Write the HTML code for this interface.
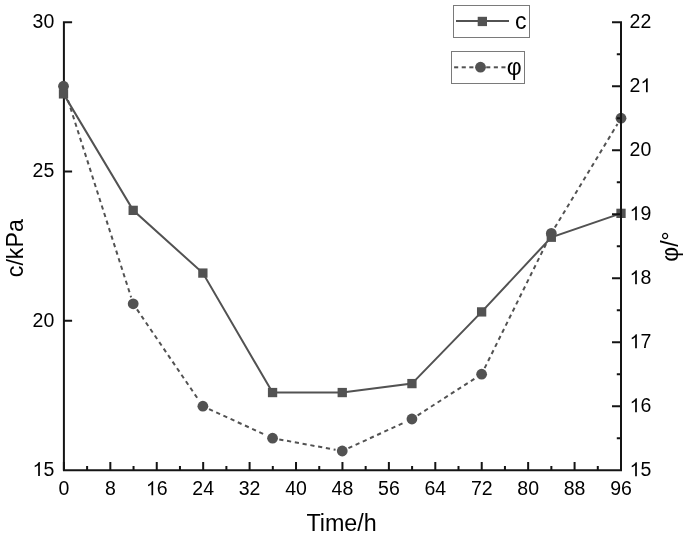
<!DOCTYPE html><html><head><meta charset="utf-8"><style>html,body{margin:0;padding:0;background:#fff;}svg{display:block;will-change:transform;font-family:"Liberation Sans",sans-serif;}</style></head><body>
<svg width="685" height="536" viewBox="0 0 685 536">
<path d="M63.9,22.2 V470.2 M62.9,22.20 H72.1 M62.9,171.53 H72.1 M62.9,320.87 H72.1" fill="none" stroke="#141414" stroke-width="2" stroke-linecap="butt"/>
<line x1="65.57" y1="92.68" x2="131.11" y2="297.32" stroke="#525252" stroke-width="2" stroke-dasharray="4.2,3.7"/>
<line x1="137.01" y1="309.42" x2="199.05" y2="400.58" stroke="#525252" stroke-width="2" stroke-dasharray="4.2,3.7"/>
<line x1="209.05" y1="409.04" x2="266.38" y2="435.36" stroke="#525252" stroke-width="2" stroke-dasharray="4.2,3.7"/>
<line x1="279.25" y1="439.43" x2="335.56" y2="449.77" stroke="#525252" stroke-width="2" stroke-dasharray="4.2,3.7"/>
<line x1="348.43" y1="448.16" x2="405.76" y2="421.84" stroke="#525252" stroke-width="2" stroke-dasharray="4.2,3.7"/>
<line x1="417.66" y1="415.32" x2="475.91" y2="377.88" stroke="#525252" stroke-width="2" stroke-dasharray="4.2,3.7"/>
<line x1="484.64" y1="368.11" x2="548.30" y2="239.49" stroke="#525252" stroke-width="2" stroke-dasharray="4.2,3.7"/>
<line x1="554.83" y1="227.58" x2="617.48" y2="124.02" stroke="#525252" stroke-width="2" stroke-dasharray="4.2,3.7"/>
<polyline points="63.50,93.88 133.19,210.36 202.88,273.08 272.56,392.55 342.25,392.55 411.94,383.59 481.62,311.91 551.31,237.24 621.00,213.35" fill="none" stroke="#525252" stroke-width="2" stroke-linejoin="miter"/>
<circle cx="63.50" cy="86.20" r="5.4" fill="#525252"/>
<circle cx="133.19" cy="303.80" r="5.4" fill="#525252"/>
<circle cx="202.88" cy="406.20" r="5.4" fill="#525252"/>
<circle cx="272.56" cy="438.20" r="5.4" fill="#525252"/>
<circle cx="342.25" cy="451.00" r="5.4" fill="#525252"/>
<circle cx="411.94" cy="419.00" r="5.4" fill="#525252"/>
<circle cx="481.62" cy="374.20" r="5.4" fill="#525252"/>
<circle cx="551.31" cy="233.40" r="5.4" fill="#525252"/>
<circle cx="621.00" cy="118.20" r="5.4" fill="#525252"/>
<rect x="58.85" y="89.23" width="9.3" height="9.3" fill="#525252"/>
<rect x="128.54" y="205.71" width="9.3" height="9.3" fill="#525252"/>
<rect x="198.22" y="268.43" width="9.3" height="9.3" fill="#525252"/>
<rect x="267.91" y="387.90" width="9.3" height="9.3" fill="#525252"/>
<rect x="337.60" y="387.90" width="9.3" height="9.3" fill="#525252"/>
<rect x="407.29" y="378.94" width="9.3" height="9.3" fill="#525252"/>
<rect x="476.98" y="307.26" width="9.3" height="9.3" fill="#525252"/>
<rect x="546.66" y="232.59" width="9.3" height="9.3" fill="#525252"/>
<rect x="616.35" y="208.70" width="9.3" height="9.3" fill="#525252"/>
<path d="M62.9,470.2 H622.0 M621.0,470.2 V22.2 M622.0,470.20 H612.0 M622.0,438.20 H616.8 M622.0,406.20 H612.0 M622.0,374.20 H616.8 M622.0,342.20 H612.0 M622.0,310.20 H616.8 M622.0,278.20 H612.0 M622.0,246.20 H616.8 M622.0,214.20 H612.0 M622.0,182.20 H616.8 M622.0,150.20 H612.0 M622.0,118.20 H616.8 M622.0,86.20 H612.0 M622.0,54.20 H616.8 M622.0,22.20 H612.0 M63.90,470.2 V462.0 M87.11,470.2 V466.0 M110.33,470.2 V462.0 M133.54,470.2 V466.0 M156.75,470.2 V462.0 M179.96,470.2 V466.0 M203.18,470.2 V462.0 M226.39,470.2 V466.0 M249.60,470.2 V462.0 M272.81,470.2 V466.0 M296.02,470.2 V462.0 M319.24,470.2 V466.0 M342.45,470.2 V462.0 M365.66,470.2 V466.0 M388.88,470.2 V462.0 M412.09,470.2 V466.0 M435.30,470.2 V462.0 M458.51,470.2 V466.0 M481.73,470.2 V462.0 M504.94,470.2 V466.0 M528.15,470.2 V462.0 M551.36,470.2 V466.0 M574.58,470.2 V462.0 M597.79,470.2 V466.0 M621.00,470.2 V462.0" fill="none" stroke="#141414" stroke-width="2" stroke-linecap="butt"/>
<text x="32.61" y="28.10" font-size="19.5px">3</text><text x="43.46" y="28.10" font-size="19.5px">0</text>
<text x="32.61" y="177.43" font-size="19.5px">2</text><text x="43.46" y="177.43" font-size="19.5px">5</text>
<text x="32.61" y="326.77" font-size="19.5px">2</text><text x="43.46" y="326.77" font-size="19.5px">0</text>
<path transform="translate(32.61,476.10) scale(0.009521,-0.009521)" d="M763 0H583V1147Q518 1085 412.5 1023Q307 961 223 930V1104Q374 1175 487 1276Q600 1377 647 1472H763V0Z"/><text x="43.46" y="476.10" font-size="19.5px">5</text>
<path transform="translate(629.60,476.20) scale(0.009521,-0.009521)" d="M763 0H583V1147Q518 1085 412.5 1023Q307 961 223 930V1104Q374 1175 487 1276Q600 1377 647 1472H763V0Z"/><text x="640.44" y="476.20" font-size="19.5px">5</text>
<path transform="translate(629.60,412.20) scale(0.009521,-0.009521)" d="M763 0H583V1147Q518 1085 412.5 1023Q307 961 223 930V1104Q374 1175 487 1276Q600 1377 647 1472H763V0Z"/><text x="640.44" y="412.20" font-size="19.5px">6</text>
<path transform="translate(629.60,348.20) scale(0.009521,-0.009521)" d="M763 0H583V1147Q518 1085 412.5 1023Q307 961 223 930V1104Q374 1175 487 1276Q600 1377 647 1472H763V0Z"/><text x="640.44" y="348.20" font-size="19.5px">7</text>
<path transform="translate(629.60,284.20) scale(0.009521,-0.009521)" d="M763 0H583V1147Q518 1085 412.5 1023Q307 961 223 930V1104Q374 1175 487 1276Q600 1377 647 1472H763V0Z"/><text x="640.44" y="284.20" font-size="19.5px">8</text>
<path transform="translate(629.60,220.20) scale(0.009521,-0.009521)" d="M763 0H583V1147Q518 1085 412.5 1023Q307 961 223 930V1104Q374 1175 487 1276Q600 1377 647 1472H763V0Z"/><text x="640.44" y="220.20" font-size="19.5px">9</text>
<text x="629.60" y="156.20" font-size="19.5px">2</text><text x="640.44" y="156.20" font-size="19.5px">0</text>
<text x="629.60" y="92.20" font-size="19.5px">2</text><path transform="translate(640.44,92.20) scale(0.009521,-0.009521)" d="M763 0H583V1147Q518 1085 412.5 1023Q307 961 223 930V1104Q374 1175 487 1276Q600 1377 647 1472H763V0Z"/>
<text x="629.60" y="28.20" font-size="19.5px">2</text><text x="640.44" y="28.20" font-size="19.5px">2</text>
<text x="58.48" y="495.20" font-size="19.5px">0</text>
<text x="104.90" y="495.20" font-size="19.5px">8</text>
<path transform="translate(145.91,495.20) scale(0.009521,-0.009521)" d="M763 0H583V1147Q518 1085 412.5 1023Q307 961 223 930V1104Q374 1175 487 1276Q600 1377 647 1472H763V0Z"/><text x="156.75" y="495.20" font-size="19.5px">6</text>
<text x="192.33" y="495.20" font-size="19.5px">2</text><text x="203.18" y="495.20" font-size="19.5px">4</text>
<text x="238.76" y="495.20" font-size="19.5px">3</text><text x="249.60" y="495.20" font-size="19.5px">2</text>
<text x="285.18" y="495.20" font-size="19.5px">4</text><text x="296.02" y="495.20" font-size="19.5px">0</text>
<text x="331.61" y="495.20" font-size="19.5px">4</text><text x="342.45" y="495.20" font-size="19.5px">8</text>
<text x="378.03" y="495.20" font-size="19.5px">5</text><text x="388.88" y="495.20" font-size="19.5px">6</text>
<text x="424.46" y="495.20" font-size="19.5px">6</text><text x="435.30" y="495.20" font-size="19.5px">4</text>
<text x="470.88" y="495.20" font-size="19.5px">7</text><text x="481.73" y="495.20" font-size="19.5px">2</text>
<text x="517.31" y="495.20" font-size="19.5px">8</text><text x="528.15" y="495.20" font-size="19.5px">0</text>
<text x="563.73" y="495.20" font-size="19.5px">8</text><text x="574.58" y="495.20" font-size="19.5px">8</text>
<text x="610.16" y="495.20" font-size="19.5px">9</text><text x="621.00" y="495.20" font-size="19.5px">6</text>
<text x="341.6" y="530.7" text-anchor="middle" font-size="23.3px">Time/h</text>
<text transform="translate(22.9,248.2) rotate(-90)" text-anchor="middle" font-size="23.2px">c/kPa</text>
<text transform="translate(677.5,246.5) rotate(-90)" text-anchor="middle" font-size="23px">φ/°</text>
<rect x="453.5" y="5.5" width="76" height="32" fill="#fff" stroke="#7a7a7a" stroke-width="1"/>
<line x1="456" y1="21" x2="509" y2="21" stroke="#525252" stroke-width="2"/>
<rect x="477.7" y="16.8" width="9.3" height="9.3" fill="#525252"/>
<text x="515.1" y="29.4" font-size="23px">c</text>
<rect x="451.5" y="51.5" width="73" height="32" fill="#fff" stroke="#7a7a7a" stroke-width="1"/>
<line x1="454.1" y1="67.3" x2="458.2" y2="67.3" stroke="#525252" stroke-width="2"/>
<line x1="461.7" y1="67.3" x2="465.8" y2="67.3" stroke="#525252" stroke-width="2"/>
<line x1="469.3" y1="67.3" x2="473.4" y2="67.3" stroke="#525252" stroke-width="2"/>
<line x1="486.2" y1="67.3" x2="490.3" y2="67.3" stroke="#525252" stroke-width="2"/>
<line x1="493.8" y1="67.3" x2="497.9" y2="67.3" stroke="#525252" stroke-width="2"/>
<line x1="501.4" y1="67.3" x2="505.5" y2="67.3" stroke="#525252" stroke-width="2"/>
<circle cx="480.5" cy="67.2" r="5.4" fill="#525252"/>
<text x="506.7" y="75" font-size="23px">φ</text>
</svg></body></html>
